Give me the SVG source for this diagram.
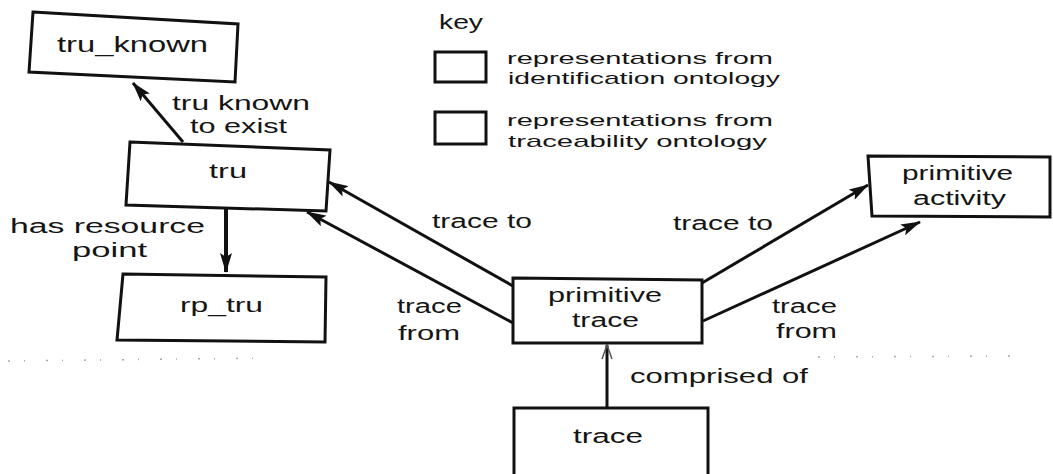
<svg xmlns="http://www.w3.org/2000/svg" width="1053" height="474" viewBox="0 0 1053 474">
  <style>
    .box { fill: #ffffff; stroke: #111111; stroke-width: 3; stroke-linejoin: miter; }
    .lbl { font-family: "Liberation Sans", Arial, sans-serif; font-size: 20px; fill: #151515; }
    .big { font-size: 22px; }
    .keytxt { font-size: 17px; }
    .edge { stroke: #111111; stroke-width: 3; fill: none; marker-end: url(#head); }
    .noise { stroke: #a8a8a8; stroke-width: 1.5; stroke-dasharray: 2 14 1 21; fill: none; }
  </style>
  <defs>
    <marker id="head" viewBox="0 0 20 12" refX="19" refY="6" markerWidth="20" markerHeight="12" markerUnits="userSpaceOnUse" orient="auto">
      <path d="M0,0 L20,6 L0,12 L4,6 z" fill="#111111"/>
    </marker>
    <marker id="openhead" viewBox="0 0 16 12" refX="15" refY="6" markerWidth="16" markerHeight="12" markerUnits="userSpaceOnUse" orient="auto">
      <path d="M1,1 L15,6 L1,11" fill="none" stroke="#555555" stroke-width="1.5"/>
    </marker>
  </defs>

  <rect width="1053" height="474" fill="#ffffff"/>

  <!-- faint dotted separator remnants -->
  <path class="noise" d="M8,361 L270,358"/>
  <path class="noise" d="M818,357 L1015,356"/>

  <!-- key -->
  <g id="key">
    <text class="lbl" x="439" y="29" textLength="44" lengthAdjust="spacingAndGlyphs">key</text>
    <rect class="box" x="435" y="52" width="51" height="30"/>
    <text class="lbl keytxt" x="507" y="64" textLength="266" lengthAdjust="spacingAndGlyphs">representations from</text>
    <text class="lbl keytxt" x="508" y="84" textLength="272" lengthAdjust="spacingAndGlyphs">identification ontology</text>
    <rect class="box" x="435" y="112" width="51" height="32"/>
    <text class="lbl keytxt" x="507" y="126" textLength="266" lengthAdjust="spacingAndGlyphs">representations from</text>
    <text class="lbl keytxt" x="508" y="147" textLength="259" lengthAdjust="spacingAndGlyphs">traceability ontology</text>
  </g>

  <!-- connectors -->
  <g id="connectors">
    <line class="edge" x1="183" y1="142" x2="133" y2="83"/>
    <line class="edge" x1="226" y1="208" x2="226" y2="272" style="stroke-width:4"/>
    <line class="edge" x1="513" y1="286" x2="329" y2="182"/>
    <line class="edge" x1="513" y1="323" x2="307" y2="212"/>
    <line class="edge" x1="702" y1="283" x2="868" y2="185"/>
    <line class="edge" x1="703" y1="321" x2="920" y2="222"/>
    <line x1="607" y1="408" x2="607" y2="345" stroke="#111111" stroke-width="3" marker-end="url(#openhead)"/>

    <text class="lbl" x="172" y="110" textLength="138" lengthAdjust="spacingAndGlyphs">tru known</text>
    <text class="lbl" x="190" y="133" textLength="97" lengthAdjust="spacingAndGlyphs">to exist</text>
    <text class="lbl" x="10" y="233" textLength="195" lengthAdjust="spacingAndGlyphs">has resource</text>
    <text class="lbl" x="72" y="257" textLength="75" lengthAdjust="spacingAndGlyphs">point</text>
    <text class="lbl" x="432" y="228" textLength="100" lengthAdjust="spacingAndGlyphs">trace to</text>
    <text class="lbl" x="397" y="313" textLength="65" lengthAdjust="spacingAndGlyphs">trace</text>
    <text class="lbl" x="398" y="340" textLength="62" lengthAdjust="spacingAndGlyphs">from</text>
    <text class="lbl" x="673" y="230" textLength="100" lengthAdjust="spacingAndGlyphs">trace to</text>
    <text class="lbl" x="772" y="313" textLength="65" lengthAdjust="spacingAndGlyphs">trace</text>
    <text class="lbl" x="776" y="338" textLength="61" lengthAdjust="spacingAndGlyphs">from</text>
    <text class="lbl" x="630" y="383" textLength="178" lengthAdjust="spacingAndGlyphs">comprised of</text>
  </g>

  <!-- nodes -->
  <g id="tru_known">
    <polygon class="box" points="33,12 238,24 235,82 29,72"/>
    <text class="lbl big" x="57" y="52" textLength="151" lengthAdjust="spacingAndGlyphs">tru_known</text>
  </g>
  <g id="tru">
    <polygon class="box" points="130,142 330,150 326,211 126,205"/>
    <text class="lbl" x="209" y="178" textLength="38" lengthAdjust="spacingAndGlyphs">tru</text>
  </g>
  <g id="rp_tru">
    <polygon class="box" points="123,274 326,277 325,342 117,340"/>
    <text class="lbl" x="180" y="312" textLength="83" lengthAdjust="spacingAndGlyphs">rp_tru</text>
  </g>
  <g id="primitive_trace">
    <polygon class="box" points="513,278 702,280 702,343 513,343"/>
    <text class="lbl" x="548" y="302" textLength="114" lengthAdjust="spacingAndGlyphs">primitive</text>
    <text class="lbl" x="572" y="327" textLength="67" lengthAdjust="spacingAndGlyphs">trace</text>
  </g>
  <g id="primitive_activity">
    <polygon class="box" points="868,156 1050,157 1050,217 872,216"/>
    <text class="lbl" x="902" y="180" textLength="111" lengthAdjust="spacingAndGlyphs">primitive</text>
    <text class="lbl" x="913" y="205" textLength="93" lengthAdjust="spacingAndGlyphs">activity</text>
  </g>
  <g id="trace">
    <polygon class="box" points="514,408 708,408 708,480 514,480"/>
    <text class="lbl" x="573" y="443" textLength="70" lengthAdjust="spacingAndGlyphs">trace</text>
  </g>
</svg>
